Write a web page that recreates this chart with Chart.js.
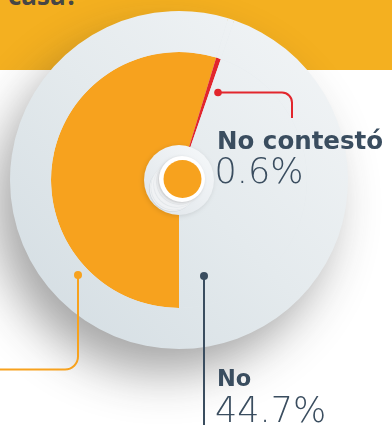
<!DOCTYPE html>
<html>
<head>
<meta charset="utf-8">
<script src="https://cdn.jsdelivr.net/npm/chart.js@4"></script>
<style>
  html, body { margin: 0; padding: 0; background: #ffffff; }
  #wrap { position: relative; width: 392px; height: 425px; overflow: hidden; font-family: "Open Sans", sans-serif; }
  #banner { position: absolute; left: 0; top: 0; width: 392px; height: 70px; background: #f4b020; }
  #title { position: absolute; left: 8px; top: -20px; font: 700 26px/30px "Open Sans", sans-serif; color: #464646; }
  #chart { position: absolute; left: 0; top: 0; }
  .lbl { position: absolute; color: #3a4d5f; white-space: nowrap; font-family: "DejaVu Sans", sans-serif; }
  .name { font-weight: 700; }
  .val { font-weight: 200; font-size: 35px; line-height: 35px; }
</style>
</head>
<body>
<div id="wrap">
  <div id="banner"><div id="title">casa?</div></div>
  <canvas id="chart" width="392" height="425"></canvas>
  <div class="lbl name" id="nameNC" style="left:217px;top:128.6px;font-size:24.5px;line-height:24.5px"></div>
  <div class="lbl val" id="valNC" style="left:214.5px;top:154.4px"></div>
  <div class="lbl name" id="nameNo" style="left:217px;top:367px;font-size:22.5px;line-height:22.5px"></div>
  <div class="lbl val" id="valNo" style="left:215px;top:393px"></div>
</div>
<script>
// Answers and their shares (%)
const categories = ['Sí', 'No contestó', 'No'];
const shares = [54.7, 0.6, 44.7];

const ORANGE = '#f7a21e';
const RED = '#e2262d';
const SLATE = '#3a4d5f';

function fmt(v) { return v.toFixed(1) + '%'; }
document.getElementById('nameNC').textContent = categories[1];
document.getElementById('valNC').textContent = fmt(shares[1]);
document.getElementById('nameNo').textContent = categories[2];
document.getElementById('valNo').textContent = fmt(shares[2]);

// soft grey disc colour, lighter towards the upper right
function discFill(context) {
  const chart = context.chart;
  const a = chart.chartArea;
  if (!a) return '#e4eaee';
  const g = chart.ctx.createLinearGradient(a.right - 40, a.top + 40, a.left + 40, a.bottom - 40);
  g.addColorStop(0, '#f0f3f5');
  g.addColorStop(0.5, '#e4eaed');
  g.addColorStop(1, '#d6dfe4');
  return g;
}

// drop shadow under the whole disc
const discShadow = {
  id: 'discShadow',
  beforeDatasetsDraw(chart) {
    const m = chart.getDatasetMeta(0).data[0];
    if (!m) return;
    const ctx = chart.ctx;
    ctx.save();
    ctx.shadowColor = 'rgba(40,40,40,0.42)';
    ctx.shadowBlur = 48;
    ctx.shadowOffsetX = -16;
    ctx.shadowOffsetY = 26;
    ctx.beginPath();
    ctx.arc(m.x, m.y, m.outerRadius - 2, 0, Math.PI * 2);
    ctx.fillStyle = '#e2e8ec';
    ctx.fill();
    ctx.restore();
  }
};

// raised hub in the middle of the pie
const hub = {
  id: 'hub',
  afterDatasetsDraw(chart) {
    const m = chart.getDatasetMeta(1).data[0];
    if (!m) return;
    const ctx = chart.ctx;
    const x = m.x, y = m.y;
    ctx.save();
    // base plate
    ctx.shadowColor = 'rgba(0,0,0,0.12)';
    ctx.shadowBlur = 5;
    ctx.shadowOffsetX = -1;
    ctx.shadowOffsetY = 1;
    let g = ctx.createLinearGradient(x + 25, y - 25, x - 25, y + 25);
    g.addColorStop(0, '#f3f6f8');
    g.addColorStop(1, '#e2e7eb');
    ctx.beginPath();
    ctx.arc(x, y, 35, 0, Math.PI * 2);
    ctx.fillStyle = g;
    ctx.fill();
    ctx.shadowColor = 'transparent';
    // extruded body toward lower left
    const cx = x + 3, cy = y - 1;
    const steps = 14;
    for (let i = steps; i >= 1; i--) {
      const t = i / steps;
      ctx.beginPath();
      ctx.arc(cx - 10 * t, cy + 10 * t, 23, 0, Math.PI * 2);
      ctx.fillStyle = i === steps ? '#d3d9de' : (i % 4 === 0 ? '#e3e7ea' : '#f0f2f4');
      ctx.fill();
    }
    // white rim and orange cap
    ctx.shadowColor = 'rgba(0,0,0,0.18)';
    ctx.shadowBlur = 3;
    ctx.shadowOffsetX = -1;
    ctx.shadowOffsetY = 1;
    ctx.beginPath();
    ctx.arc(cx, cy, 23, 0, Math.PI * 2);
    ctx.fillStyle = '#ffffff';
    ctx.fill();
    ctx.shadowColor = 'transparent';
    ctx.beginPath();
    ctx.arc(cx + 0.5, cy, 19, 0, Math.PI * 2);
    ctx.fillStyle = ORANGE;
    ctx.fill();
    ctx.restore();
  }
};

// callout lines with end dots
const callouts = {
  id: 'callouts',
  afterDraw(chart) {
    const ctx = chart.ctx;
    ctx.save();
    ctx.lineWidth = 2;
    ctx.lineCap = 'butt';
    function dot(x, y, r, c) {
      ctx.beginPath(); ctx.arc(x, y, r, 0, Math.PI * 2); ctx.fillStyle = c; ctx.fill();
    }
    // No contestó
    ctx.strokeStyle = RED;
    ctx.beginPath();
    ctx.moveTo(218, 92.5);
    ctx.lineTo(282, 92.5);
    ctx.arcTo(292, 92.5, 292, 103, 10);
    ctx.lineTo(292, 118);
    ctx.stroke();
    dot(218, 92.5, 3.8, RED);
    // No
    ctx.strokeStyle = SLATE;
    ctx.beginPath();
    ctx.moveTo(204, 276);
    ctx.lineTo(204, 430);
    ctx.stroke();
    dot(204, 276, 4, SLATE);
    // Sí
    ctx.strokeStyle = ORANGE;
    ctx.beginPath();
    ctx.moveTo(78, 275);
    ctx.lineTo(78, 356);
    ctx.arcTo(78, 369.5, 64, 369.5, 13);
    ctx.lineTo(-5, 369.5);
    ctx.stroke();
    dot(78, 275, 4, ORANGE);
    ctx.restore();
  }
};

new Chart(document.getElementById('chart'), {
  type: 'pie',
  data: {
    labels: categories,
    datasets: [
      {
        // outer grey band
        data: shares,
        backgroundColor: discFill,
        borderWidth: 0,
        weight: 41
      },
      {
        data: shares,
        backgroundColor: (c) => [ORANGE, RED, discFill(c)][c.dataIndex],
        borderWidth: 0,
        weight: 128
      }
    ]
  },
  options: {
    responsive: false,
    animation: false,
    rotation: 180,
    layout: { padding: { left: 10, right: 44, top: 11, bottom: 76 } },
    plugins: {
      legend: { display: false },
      tooltip: { enabled: false }
    }
  },
  plugins: [discShadow, hub, callouts]
});
</script>
</body>
</html>
